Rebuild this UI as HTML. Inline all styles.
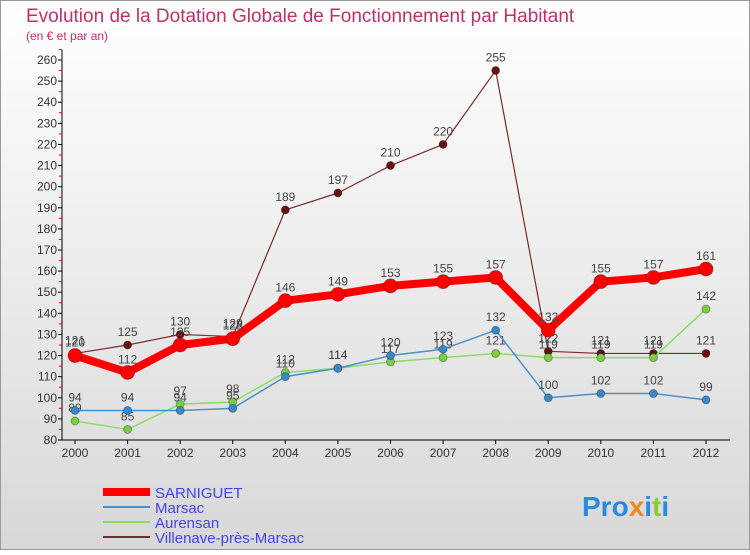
<!DOCTYPE html>
<html><head><meta charset="utf-8"><style>
body{margin:0;}
svg text{font-family:"Liberation Sans",sans-serif;}
</style></head><body>
<svg width="750" height="550" viewBox="0 0 750 550" xmlns="http://www.w3.org/2000/svg">
<defs><linearGradient id="bg" x1="0" y1="0" x2="0" y2="1"><stop offset="0" stop-color="#ffffff"/><stop offset="1" stop-color="#d8d8d8"/></linearGradient></defs>
<rect x="0.5" y="0.5" width="749" height="549" fill="url(#bg)" stroke="#999"/>
<text x="26" y="22" font-size="19" fill="#c0306a">Evolution de la Dotation Globale de Fonctionnement par Habitant</text>
<text x="26" y="40" font-size="12" fill="#c0306a">(en € et par an)</text>
<g id="axes"></g><g id="series"></g>
<g>
<line x1="103" y1="492" x2="150" y2="492" stroke="#ff0000" stroke-width="8"/>
<text x="155" y="498" font-size="15" fill="#4444ee">SARNIGUET</text>
<line x1="103" y1="507" x2="150" y2="507" stroke="#4a90c8" stroke-width="2"/>
<text x="155" y="513" font-size="15" fill="#4444ee">Marsac</text>
<line x1="103" y1="522" x2="150" y2="522" stroke="#88dd66" stroke-width="2"/>
<text x="155" y="528" font-size="15" fill="#4444ee">Aurensan</text>
<line x1="103" y1="537" x2="150" y2="537" stroke="#7a2a2a" stroke-width="2"/>
<text x="155" y="543" font-size="15" fill="#4444ee">Villenave-près-Marsac</text>
</g>
<text x="582" y="516" font-size="28" font-weight="bold" fill="#2a8adf">Pro<tspan fill="#f08a20">x</tspan>i<tspan fill="#88cc33">t</tspan>i</text>
</svg>
<script>
const years=[2000,2001,2002,2003,2004,2005,2006,2007,2008,2009,2010,2011,2012];
const yTicks=[80,90,100,110,120,130,140,150,160,170,180,190,200,210,220,230,240,250,260];
const sarniguet=[120,112,125,128,146,149,153,155,157,132,155,157,161];
const marsac=[94,94,94,95,110,114,120,123,132,100,102,102,99];
const aurensan=[89,85,97,98,112,114,117,119,121,119,119,119,142];
const villenave=[121,125,130,129,189,197,210,220,255,122,121,121,121];
const NS='http://www.w3.org/2000/svg';
const x0=75,x1=706,yb=440,yt=60,vmin=80,vmax=260;
const xs=i=>x0+(x1-x0)*i/(years.length-1);
const ys=v=>yb-(v-vmin)*(yb-yt)/(vmax-vmin);
function mk(tag,attrs,parent){const e=document.createElementNS(NS,tag);for(const k in attrs)e.setAttribute(k,attrs[k]);parent.appendChild(e);return e;}
const ax=document.getElementById('axes');
let l=mk('line',{x1:62,y1:yb,x2:730,y2:yb,stroke:'#000'},ax);


l=mk('line',{x1:62,y1:50,x2:62,y2:yb,stroke:'#000'},ax);


yTicks.forEach(v=>{
 const t=mk('text',{x:57,y:ys(v)+4,'font-size':12,'text-anchor':'end',fill:'#333'},ax);t.textContent=v;
 
 
 const tk=mk('line',{x1:58,y1:ys(v),x2:62,y2:ys(v),stroke:'#000'},ax);
 
 
 const m=mk('line',{x1:59,y1:ys(v+5),x2:62,y2:ys(v+5),stroke:'#e00'},ax);
 
 
});
years.forEach((y,i)=>{
 const t=mk('text',{x:xs(i),y:yb+17,'font-size':12,'text-anchor':'middle',fill:'#333'},ax);t.textContent=y;
 
 
 const tk=mk('line',{x1:xs(i),y1:yb,x2:xs(i),y2:yb+4,stroke:'#000'},ax);
 
 
});
const sg=document.getElementById('series');
function draw(data,color,w,r,name,dot){
 const g=mk('g',{},sg);
 
 
 const p=mk('polyline',{points:data.map((v,i)=>xs(i)+','+ys(v)).join(' '),fill:'none',stroke:color,'stroke-width':w,'stroke-linejoin':'round'},g);
 
 
 data.forEach((v,i)=>{
  const c=mk('circle',{cx:xs(i),cy:ys(v),r:r,fill:dot,stroke:'rgba(0,0,0,0.3)','stroke-width':1},g);
  
  
  const t=mk('text',{x:xs(i),y:ys(v)-9,'font-size':12,'text-anchor':'middle',fill:'#444'},g);t.textContent=v;
  
  
 });
}
draw(villenave,'#7a2a2a',1.2,4,'villenave','#6a1010');
draw(aurensan,'#88dd66',1.5,4,'aurensan','#77d044');
draw(marsac,'#4a90c8',1.5,4,'marsac','#3a88cc');
draw(sarniguet,'#ff0000',8,7,'sarniguet','#ff0000');
</script>
</body></html>
